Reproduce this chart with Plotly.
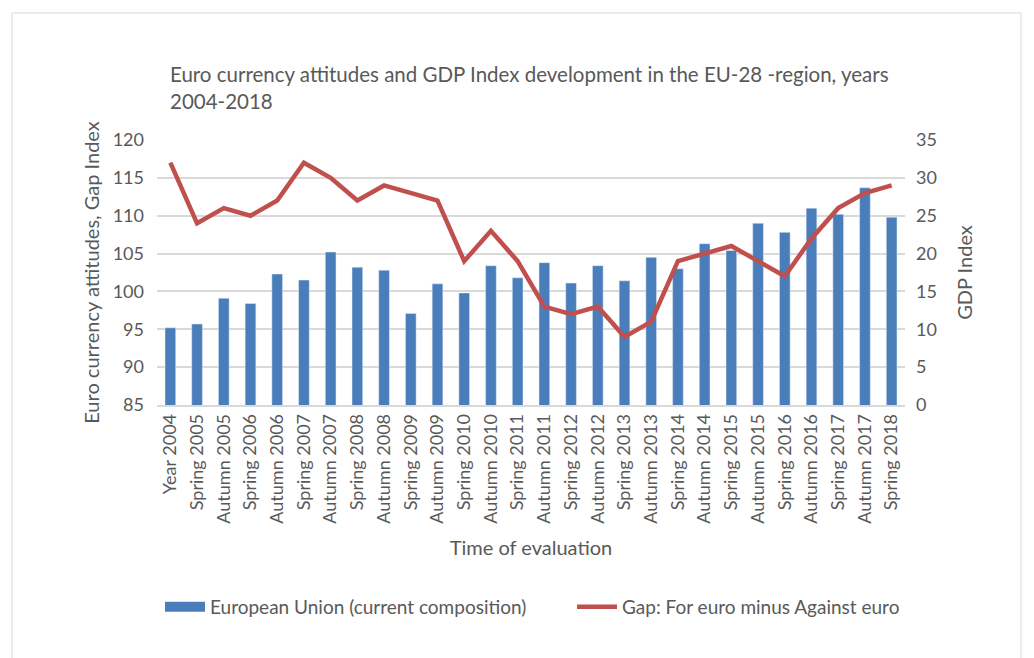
import plotly.graph_objects as go

# Categories (time of evaluation)
periods = [
    "Year 2004", "Spring 2005", "Autumn 2005", "Spring 2006", "Autumn 2006",
    "Spring 2007", "Autumn 2007", "Spring 2008", "Autumn 2008", "Spring 2009",
    "Autumn 2009", "Spring 2010", "Autumn 2010", "Spring 2011", "Autumn 2011",
    "Spring 2012", "Autumn 2012", "Spring 2013", "Autumn 2013", "Spring 2014",
    "Autumn 2014", "Spring 2015", "Autumn 2015", "Spring 2016", "Autumn 2016",
    "Spring 2017", "Autumn 2017", "Spring 2018",
]

# Bars, left axis
eu_values = [
    95.2, 95.7, 99.1, 98.4, 102.3, 101.5, 105.2, 103.2, 102.8, 97.1,
    101.0, 99.8, 103.4, 101.8, 103.8, 101.1, 103.4, 101.4, 104.5, 103.0,
    106.3, 105.4, 109.0, 107.8, 111.0, 110.2, 113.7, 109.8,
]

# Line, right axis
gap_values = [
    32, 24, 26, 25, 27, 32, 30, 27, 29, 28,
    27, 19, 23, 19, 13, 12, 13, 9, 11, 19,
    20, 21, 19, 17, 22, 26, 28, 29,
]

bar_name = "European Union (current composition)"
line_name = "Gap: For euro minus Against euro"

FONT = "Lato, 'Open Sans', sans-serif"
GREY = "#595959"
GRID = "#d9d9d9"
BLUE = "#4a7ebb"
RED = "#c0504d"

# the page body adds an 8px offset, so work in figure pixels
OFF = 8
W, H = 1034, 658
L, R, T, B = 157 - OFF, 905 - OFF, 140 - OFF, 405 - OFF
PW, PH = R - L, B - T


def px_x(x):
    return (x - OFF - L) / PW


def px_y(y):
    return (B - (y - OFF)) / PH


fig = go.Figure()

fig.add_trace(
    go.Bar(
        x=periods,
        y=eu_values,
        name=bar_name,
        marker=dict(color=BLUE),
        width=0.4,
        showlegend=False,
    )
)
fig.add_trace(
    go.Scatter(
        x=periods,
        y=gap_values,
        mode="lines",
        name=line_name,
        line=dict(color=RED, width=4.5),
        yaxis="y2",
        showlegend=False,
    )
)

# legend entries (wide swatch like the original)
fig.add_trace(
    go.Scatter(
        x=[None], y=[None], mode="lines", name=bar_name,
        line=dict(color=BLUE, width=10), legend="legend",
    )
)
fig.add_trace(
    go.Scatter(
        x=[None], y=[None], mode="lines", name=line_name,
        line=dict(color=RED, width=4.5), legend="legend2",
    )
)

legend_common = dict(
    orientation="h",
    xanchor="left",
    yanchor="middle",
    y=px_y(607),
    font=dict(size=19, color=GREY),
    itemwidth=40,
    bgcolor="rgba(0,0,0,0)",
)

fig.update_layout(
    width=W,
    height=H,
    margin=dict(l=L, r=W - R, t=T, b=H - B),
    paper_bgcolor="white",
    plot_bgcolor="white",
    font=dict(family=FONT, color=GREY, size=18),
    title=dict(
        text="Euro currency attitudes and GDP Index development in the EU-28 -region, years<br>2004-2018",
        x=(170 - OFF) / W,
        xanchor="left",
        y=1 - 74 / H,
        yanchor="top",
        font=dict(size=20.5, color=GREY),
    ),
    xaxis=dict(
        tickangle=-90,
        tickfont=dict(size=18),
        showgrid=False,
        showline=True,
        linecolor=GRID,
        linewidth=1.5,
        title=dict(text="Time of evaluation", font=dict(size=20), standoff=18),
        ticks="",
        automargin=False,
    ),
    yaxis=dict(
        range=[85, 120],
        dtick=5,
        gridcolor=GRID,
        gridwidth=1.5,
        zeroline=False,
        title=dict(text="Euro currency attitudes, Gap Index", font=dict(size=20), standoff=7),
        ticks="",
        ticklabelstandoff=12,
        automargin=False,
    ),
    yaxis2=dict(
        range=[0, 35],
        dtick=5,
        overlaying="y",
        side="right",
        showgrid=False,
        zeroline=False,
        title=dict(text="GDP Index", font=dict(size=20), standoff=22),
        ticks="",
        ticklabelstandoff=10,
        automargin=False,
    ),
    legend=dict(x=px_x(160), **legend_common),
    legend2=dict(x=px_x(572), **legend_common),
    shapes=[
        dict(
            type="rect",
            xref="paper",
            yref="paper",
            x0=px_x(12),
            x1=px_x(1021),
            y0=px_y(700),
            y1=px_y(13),
            line=dict(color=GRID, width=1),
            layer="below",
        )
    ],
)

fig.write_html("out.html")
